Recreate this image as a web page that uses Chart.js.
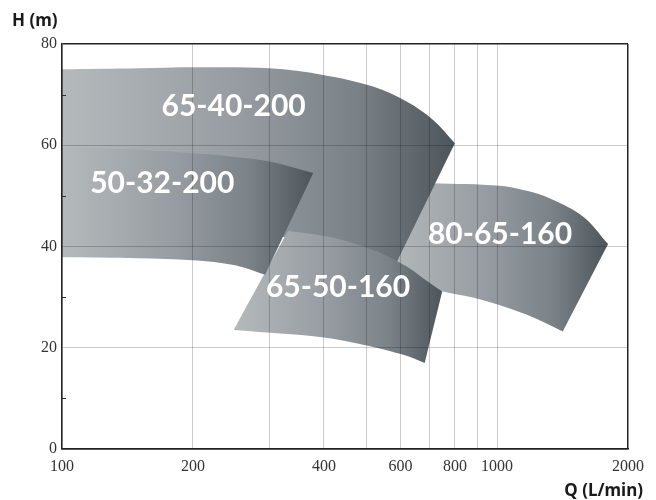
<!DOCTYPE html>
<html><head><meta charset="utf-8">
<script src="https://cdn.jsdelivr.net/npm/chart.js@4/dist/chart.umd.min.js"></script>
<style>html,body{margin:0;padding:0;background:#fff;}#wrap{width:656px;height:500px;}</style>
</head><body><div id="wrap"><canvas id="c" width="656" height="500"></canvas></div>
<script>
// ---- data: [Q (L/min), H (m)] ----
const pumpNames = ['50-32-200', '65-50-160', '65-40-200', '80-65-160'];
const top_50_32_200 = [[100,59.6],[150,59.1],[200,58.4],[250,57.7],[300,56.8],[378,54.5]];
const bottom_50_32_200 = [[293,34.4],[250,36.3],[200,37.3],[150,37.7],[100,37.9]];
const top_65_50_160 = [[331,43.1],[428,41.6],[530,39.0],[621,36.0],[677,33.7],[748,31.1]];
const bottom_65_50_160 = [[682,17.0],[609,18.6],[511,20.3],[392,22.1],[248,23.5]];
const top_65_40_200 = [[100,75.0],[150,75.2],[200,75.4],[300,75.2],[398,73.9],[519,71.6],[621,68.6],[713,65.0],[800,60.4]];
const bottom_65_40_200 = [[585,36.5],[500,38.0],[400,40.0],[300,42.5],[200,46.0],[100,48.0]];
const top_80_65_160 = [[560,52.8],[713,52.5],[1016,52.0],[1170,51.0],[1324,49.5],[1578,45.9],[1800,40.5]];
const bottom_80_65_160 = [[1416,23.2],[1172,26.5],[929,29.4],[751,31.1],[660,32.3],[560,34.0]];
const labelQ = [170, 431, 248, 1016];
const labelH = [52.5, 32.0, 67.6, 42.5];
const xTickValues = [100,200,300,400,500,600,700,800,900,1000,2000];
const xTickLabels = ['100','200','','400','','600','','800','','1000','2000'];
const yMinorTicks = [10,30,50,70];

// repeat end points of each curve so the smoothed outline keeps sharp corners
function dupEnds(a) { return [a[0]].concat(a, [a[a.length - 1]]); }
const curvePairs = [
  [top_50_32_200, bottom_50_32_200],
  [top_65_50_160, bottom_65_50_160],
  [top_65_40_200, bottom_65_40_200],
  [top_80_65_160, bottom_80_65_160]
];
const outlines = curvePairs.map(([t, b]) => {
  const poly = dupEnds(t).concat(dupEnds(b), [t[0], t[0]]);
  return poly.map(p => ({ x: p[0], y: p[1] }));
});

function gradFor(i) {
  return function(ctx) {
    const chart = ctx.chart;
    if (!chart.chartArea) return '#999';
    const xs = chart.scales.x;
    const qs = outlines[i].map(p => p.x);
    const x0 = xs.getPixelForValue(Math.min.apply(null, qs));
    const x1 = xs.getPixelForValue(Math.max.apply(null, qs));
    const g = chart.ctx.createLinearGradient(x0, 0, x1, 0);
    g.addColorStop(0, '#b4b9bc');
    g.addColorStop(0.45, '#969ca1');
    g.addColorStop(0.75, '#7a8187');
    g.addColorStop(1, '#4d545a');
    return g;
  };
}

const datasets = outlines.map((pts, i) => ({
  label: pumpNames[i],
  data: pts,
  showLine: true,
  fill: 'shape',
  backgroundColor: gradFor(i),
  borderWidth: 0,
  borderColor: 'rgba(0,0,0,0)',
  pointRadius: 0,
  tension: 0.35,
  order: i
}));

const extras = {
  id: 'extras',
  afterDraw(chart) {
    const c = chart.ctx, a = chart.chartArea, xs = chart.scales.x, ys = chart.scales.y;
    c.save();
    c.strokeStyle = '#333'; c.lineWidth = 1;
    yMinorTicks.forEach(v => {
      const y = Math.round(ys.getPixelForValue(v)) + 0.5;
      c.beginPath(); c.moveTo(a.left, y); c.lineTo(a.left + 4, y); c.stroke();
    });
    c.fillStyle = '#ffffff';
    c.font = 'bold 30px Lato';
    c.textAlign = 'center'; c.textBaseline = 'middle';
    pumpNames.forEach((n, i) => {
      c.fillText(n, xs.getPixelForValue(labelQ[i]), ys.getPixelForValue(labelH[i]));
    });
    c.fillStyle = '#1a1a1a';
    c.font = 'bold 17px "Noto Sans"';
    c.textBaseline = 'alphabetic';
    c.textAlign = 'left';
    c.fillText('H (m)', 12, 26);
    c.textAlign = 'right';
    c.fillText('Q (L/min)', 643, 496);
    c.restore();
  }
};

function build() {
  new Chart(document.getElementById('c'), {
    type: 'scatter',
    data: { datasets },
    options: {
      responsive: false,
      animation: false,
      devicePixelRatio: 1,
      layout: { padding: { top: 44, right: 28, left: 0, bottom: 0 } },
      plugins: { legend: { display: false }, tooltip: { enabled: false } },
      scales: {
        x: {
          type: 'logarithmic', min: 100, max: 2000,
          afterBuildTicks: s => { s.ticks = xTickValues.map(v => ({ value: v })); },
          afterFit: s => { s.height = 51; },
          ticks: {
            autoSkip: false, maxRotation: 0, padding: 8,
            color: '#333', font: { family: '"Liberation Sans Narrow"', size: 16 },
            callback: v => xTickLabels[xTickValues.indexOf(v)]
          },
          grid: {
            z: 1, drawTicks: false,
            color: ctx => (ctx.tick && ctx.tick.value === 2000) ? '#222' : 'rgba(0,0,0,0.2)',
            lineWidth: ctx => (ctx.tick && ctx.tick.value === 2000) ? 1.5 : 1
          },
          border: { color: '#222', width: 1.5, z: 1 }
        },
        y: {
          min: 0, max: 80,
          afterFit: s => { s.width = 62; },
          ticks: {
            stepSize: 20, padding: 5,
            color: '#333', font: { family: '"Liberation Sans Narrow"', size: 16 }
          },
          grid: {
            z: 1, drawTicks: false,
            color: ctx => (ctx.tick && (ctx.tick.value === 80 || ctx.tick.value === 0)) ? '#222' : 'rgba(0,0,0,0.2)',
            lineWidth: ctx => (ctx.tick && (ctx.tick.value === 80 || ctx.tick.value === 0)) ? 1.5 : 1
          },
          border: { color: '#222', width: 1.5, z: 1 }
        }
      }
    },
    plugins: [extras]
  });
}
if (document.fonts && document.fonts.load) {
  Promise.all([
    document.fonts.load('bold 30px Lato'),
    document.fonts.load('bold 17px "Noto Sans"'),
    document.fonts.load('16px "Liberation Sans Narrow"')
  ]).then(build, build);
} else { build(); }
</script>
</body></html>
